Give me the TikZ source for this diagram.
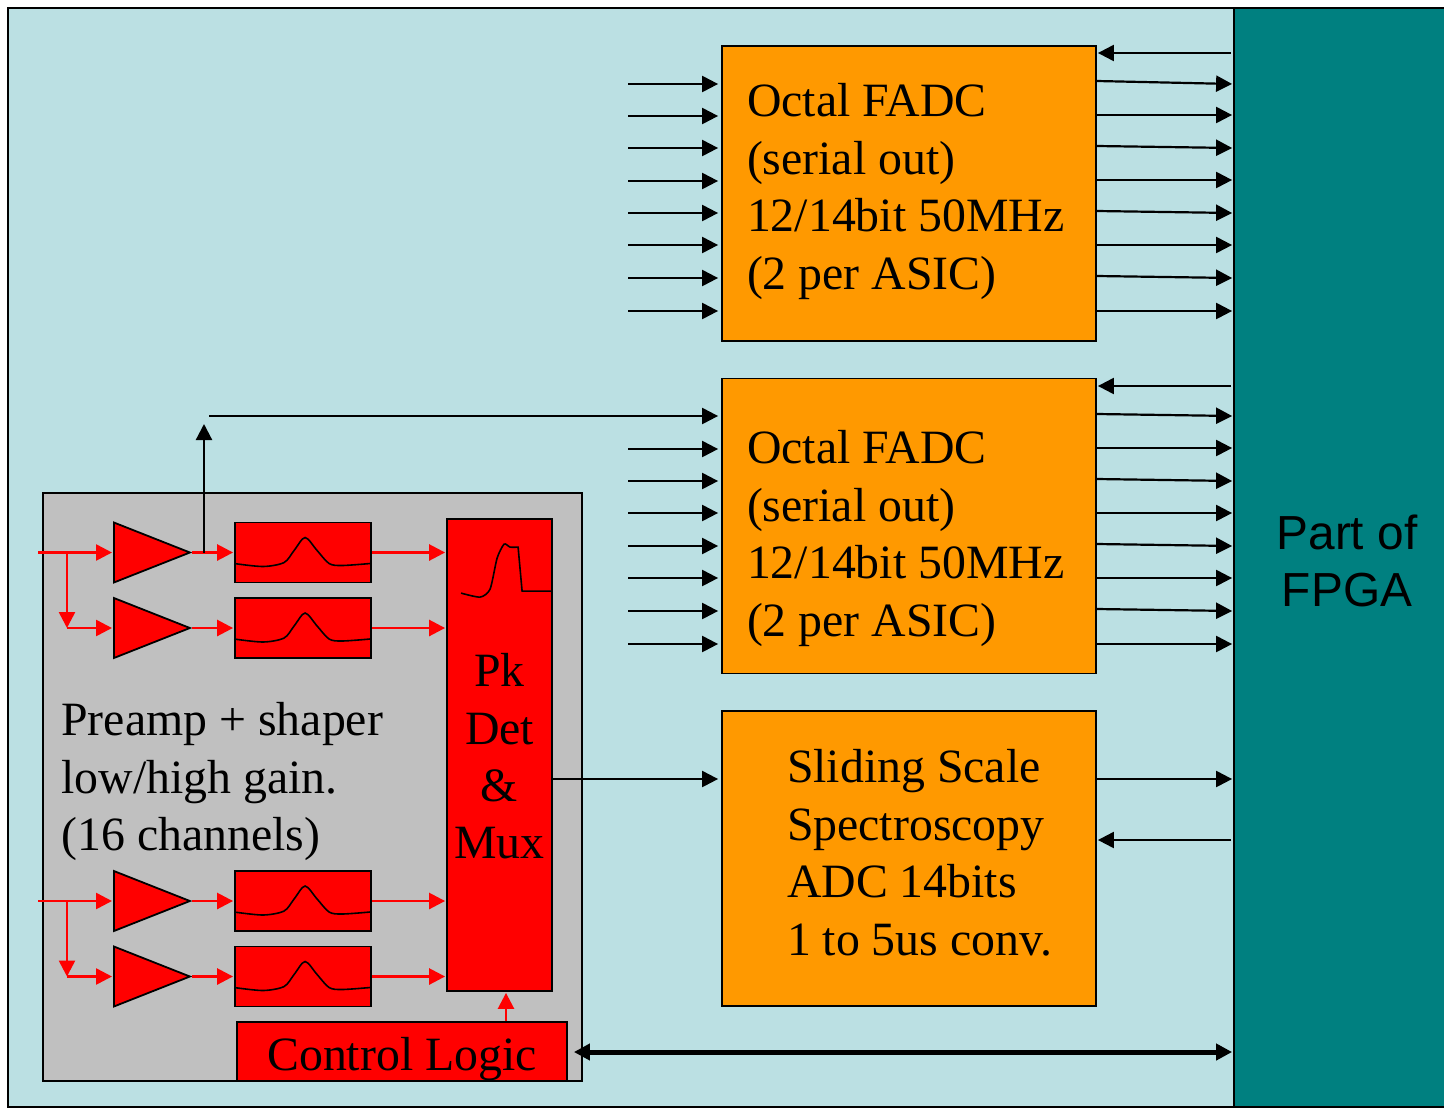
\documentclass[tikz,border=0pt]{standalone}
\usepackage{fontspec}
\setmainfont{Liberation Serif}
\setsansfont{Liberation Sans}
\usetikzlibrary{arrows.meta, positioning, calc, shapes.geometric}
\definecolor{boardblue}{HTML}{BBE0E3}
\definecolor{fpgateal}{HTML}{008080}
\definecolor{convorange}{HTML}{FF9900}
\definecolor{asicgray}{HTML}{C0C0C0}
\tikzset{
  block/.style={draw, fill=#1, line width=0.9pt, inner sep=0pt, font=\fontsize{23.9}{28.7}\selectfont},
  conv/.style={block=convorange, minimum width=187pt, minimum height=147.5pt, align=flush left,
    inner xsep=12.5pt, text width=162pt},
  amp/.style={draw, fill=red, line width=0.9pt, isosceles triangle, isosceles triangle stretches,
    inner sep=0pt, minimum width=30pt, minimum height=38pt, anchor=lower side},
  shaper/.style={block=red, minimum width=68pt, minimum height=30pt},
  arr/.style={-{Triangle[length=8pt, width=8pt]}, line width=1.1pt, shorten >=1.5pt},
  redarr/.style={arr, red, line width=1.3pt, shorten >=0.5pt},
  trace/.style={line width=0.8pt},
}
\begin{document}
\begin{tikzpicture}[x=0.5pt, y=-0.5pt]
  \useasboundingbox (0,0) rectangle (1444,1108);
  \node[block=boardblue, minimum width=718pt, minimum height=549.5pt] (board) at (726,557.5) {};
  \node[block=fpgateal, minimum width=113pt, minimum height=549.5pt, align=center,
    font=\fontsize{23.9}{28.7}\selectfont\sffamily] (fpga) at (1347,557.5) {\rule{0pt}{21pt}Part of\\FPGA};
  \node[block=asicgray, minimum width=269.5pt, minimum height=294pt] (asic) at (312.5,787) {};
  \node[conv] (fadc1) at (909,193.5) {Octal FADC\\(serial out)\\12/14bit 50MHz\\(2 per ASIC)\rule[-7pt]{0pt}{7pt}};
  \node[conv] (fadc2) at (909,526) {\rule{0pt}{29pt}Octal FADC\\(serial out)\\12/14bit 50MHz\\(2 per ASIC)};
  \node[conv] (adc) at (909,858.5) {\hspace*{20pt}Sliding Scale\\\hspace*{20pt}Spectroscopy\\\hspace*{20pt}ADC 14bits\\\hspace*{20pt}1 to 5us conv.\rule[-6pt]{0pt}{6pt}};
  \node[block=red, minimum width=52.5pt, minimum height=236pt, align=center] (pk) at (499.5,755) {\rule{0pt}{18pt}Pk\\Det\\\&\\Mux};
  \node[block=red, minimum width=165pt, minimum height=29.5pt] (ctrl) at (402,1051.5) {\rule{0pt}{24pt}Control Logic};
  \node[inner sep=0pt, anchor=west, align=left, font=\fontsize{23.9}{28.7}\selectfont] (preamp) at (61,781.5) {Preamp + shaper\\low/high gain.\\(16 channels)};
  % amplifier and shaper channels
  \foreach \i/\y in {1/552.5,2/628,3/901,4/976.5}{
    \node[amp] (amp\i) at (113,\y) {};
    \node[shaper] (sh\i) at (303,\y) {};
    \draw[trace, shift={(sh\i.west)}] plot[smooth] coordinates {(0,11) (29,14) (50,10) (60,-2) (71,-15) (83,-2) (95,11) (108,13) (136,11)};
    \draw[redarr] (amp\i.apex) -- (sh\i.west);
    \draw[redarr] (sh\i.east) -- (pk.west |- sh\i.east);
  }
  \draw[trace, shift={(pk.north west)}] plot[smooth, tension=0.4] coordinates {(15,75) (34,79) (44,71) (51,40) (58,26) (64,29) (72,29)} -- (76,73) -- (105,73);
  % inputs with a low gain branch
  \foreach \a/\b in {1/2,3/4}{
    \coordinate (in\a) at ($(amp\a.lower side)+(-75,0)$);
    \coordinate (tap\a) at ($(amp\a.lower side)+(-46,0)$);
    \coordinate (knee\a) at (tap\a |- amp\b.lower side);
    \draw[redarr] (in\a) -- (amp\a.lower side);
    \draw[redarr, shorten >=0pt] (tap\a) -- (knee\a);
    \draw[redarr] (knee\a) -- (amp\b.lower side);
  }
  \draw[redarr] (ctrl.north -| 506,0) -- (pk.south -| 506,0);
  % converter inputs
  \foreach \y in {84,116,148,181,213,245,278,311}{
    \coordinate (ina\y) at (628,\y);
    \draw[arr] (ina\y) -- (fadc1.west |- ina\y);
  }
  \foreach \y in {449,481,513,546,578,611,644}{
    \coordinate (inb\y) at (628,\y);
    \draw[arr] (inb\y) -- (fadc2.west |- inb\y);
  }
  % converter outputs
  \foreach \unit/\s/\e in {fadc1/81/84,fadc1/115/115,fadc1/146/148,fadc1/180/180,fadc1/211/213,fadc1/245/245,fadc1/276/278,fadc1/311/311,
      fadc2/414/416,fadc2/448/448,fadc2/479/481,fadc2/513/513,fadc2/544/546,fadc2/578/578,fadc2/609/611,fadc2/644/644,adc/779/779}{
    \draw[arr, shorten >=0.5pt] (\unit.east |- 0,\s) -- (fpga.west |- 0,\e);
  }
  \foreach \unit/\y in {fadc1/53,fadc2/386,adc/840}{
    \draw[arr, shorten >=0.5pt, shorten <=1pt] (fpga.west |- 0,\y) -- (\unit.east |- 0,\y);
  }
  % peak path and signals to the converters
  \coordinate (up) at (204,552.5);
  \coordinate (upend) at (204,421);
  \coordinate (over) at (209,416);
  \draw[arr] (up) -- (upend);
  \draw[arr] (over) -- (fadc2.west |- over);
  \draw[arr] (pk.east |- 0,779) -- (adc.west |- 0,779);
  \draw[{Triangle[length=8pt, width=8pt]}-{Triangle[length=8pt, width=8pt]}, line width=2.5pt, shorten >=0.5pt, shorten <=3pt] (ctrl.east |- 0,1052) -- (fpga.west |- 0,1052);
\end{tikzpicture}
\end{document}
